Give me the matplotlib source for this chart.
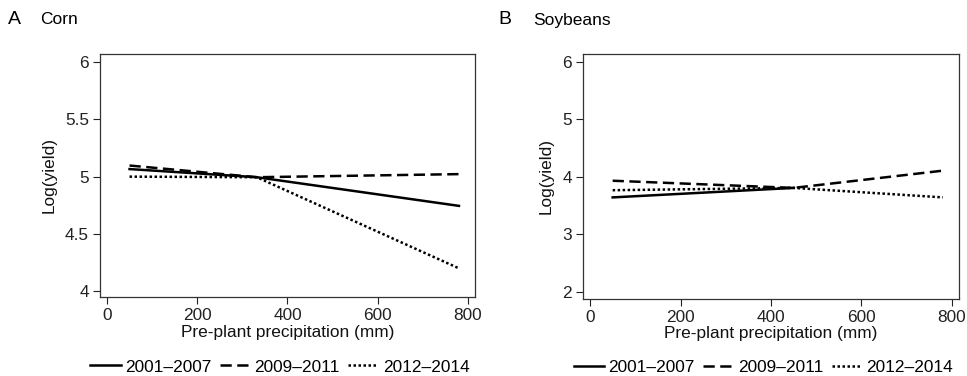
import matplotlib
matplotlib.use("Agg")
import matplotlib.pyplot as plt

plt.rcParams['font.family'] = ['Liberation Sans', 'DejaVu Sans']

periods = ["2001\u20132007", "2009\u20132011", "2012\u20132014"]
styles = ["-", (0, (4.5, 2.2)), (0, (1, 1))]

# Corn: (precip, log yield) points for each period
corn_x = [[50, 332, 780], [50, 332, 780], [50, 332, 780]]
corn_y = [[5.066, 4.995, 4.745], [5.097, 4.995, 5.022], [5.0, 4.995, 4.20]]

# Soybeans
soy_x = [[50, 450], [50, 450, 780], [50, 450, 780]]
soy_y = [[3.645, 3.81], [3.935, 3.81, 4.11], [3.77, 3.81, 3.645]]

xticks = [0, 200, 400, 600, 800]
corn_yticks = [4, 4.5, 5, 5.5, 6]
corn_yticklabels = ["4", "4.5", "5", "5.5", "6"]
soy_yticks = [2, 3, 4, 5, 6]

fig = plt.figure(figsize=(9.67, 3.76), dpi=100)
axA = fig.add_axes([0.1034, 0.2101, 0.3878, 0.6463])
axB = fig.add_axes([0.6029, 0.2048, 0.3888, 0.6516])

FS = 12.4

def style(ax, yticks, ylabels, ylim):
    ax.set_xlim(-15.5, 815.5)
    ax.set_ylim(*ylim)
    ax.set_xticks(xticks)
    ax.set_xticklabels([str(v) for v in xticks])
    ax.set_yticks(yticks)
    ax.set_yticklabels(ylabels)
    ax.tick_params(direction='out', length=5, width=0.8, labelsize=FS,
                   colors='#222222', pad=3)
    for s in ax.spines.values():
        s.set_color('#333333')
        s.set_linewidth(0.9)
    ax.set_xlabel("Pre-plant precipitation (mm)", fontsize=FS, labelpad=1,
                  color='#111111')
    ax.set_ylabel("Log(yield)", fontsize=FS, labelpad=6, color='#111111')

for i in range(3):
    axA.plot(corn_x[i], corn_y[i], color='black', linestyle=styles[i],
             lw=1.8, label=periods[i])
    axB.plot(soy_x[i], soy_y[i], color='black', linestyle=styles[i],
             lw=1.8, label=periods[i])

style(axA, corn_yticks, corn_yticklabels, (3.95, 6.07))
style(axB, soy_yticks, [str(v) for v in soy_yticks], (1.878, 6.139))

for ax, dy in ((axA, -0.288), (axB, -0.28)):
    ax.legend(loc='center', bbox_to_anchor=(0.48, dy), ncol=3,
              frameon=False, fontsize=FS, handlelength=1.75,
              handletextpad=0.25, columnspacing=0.5, borderaxespad=0,
              borderpad=0)

fig.text(8 / 967, 1 - 20 / 376, "A", fontsize=14, va='center', ha='left')
fig.text(40 / 967, 1 - 20 / 376, "Corn", fontsize=12.5, va='center', ha='left')
fig.text(498 / 967, 1 - 20 / 376, "B", fontsize=14, va='center', ha='left')
fig.text(533 / 967, 1 - 20 / 376, "Soybeans", fontsize=12.5, va='center', ha='left')

fig.savefig("out.png", dpi=100)
